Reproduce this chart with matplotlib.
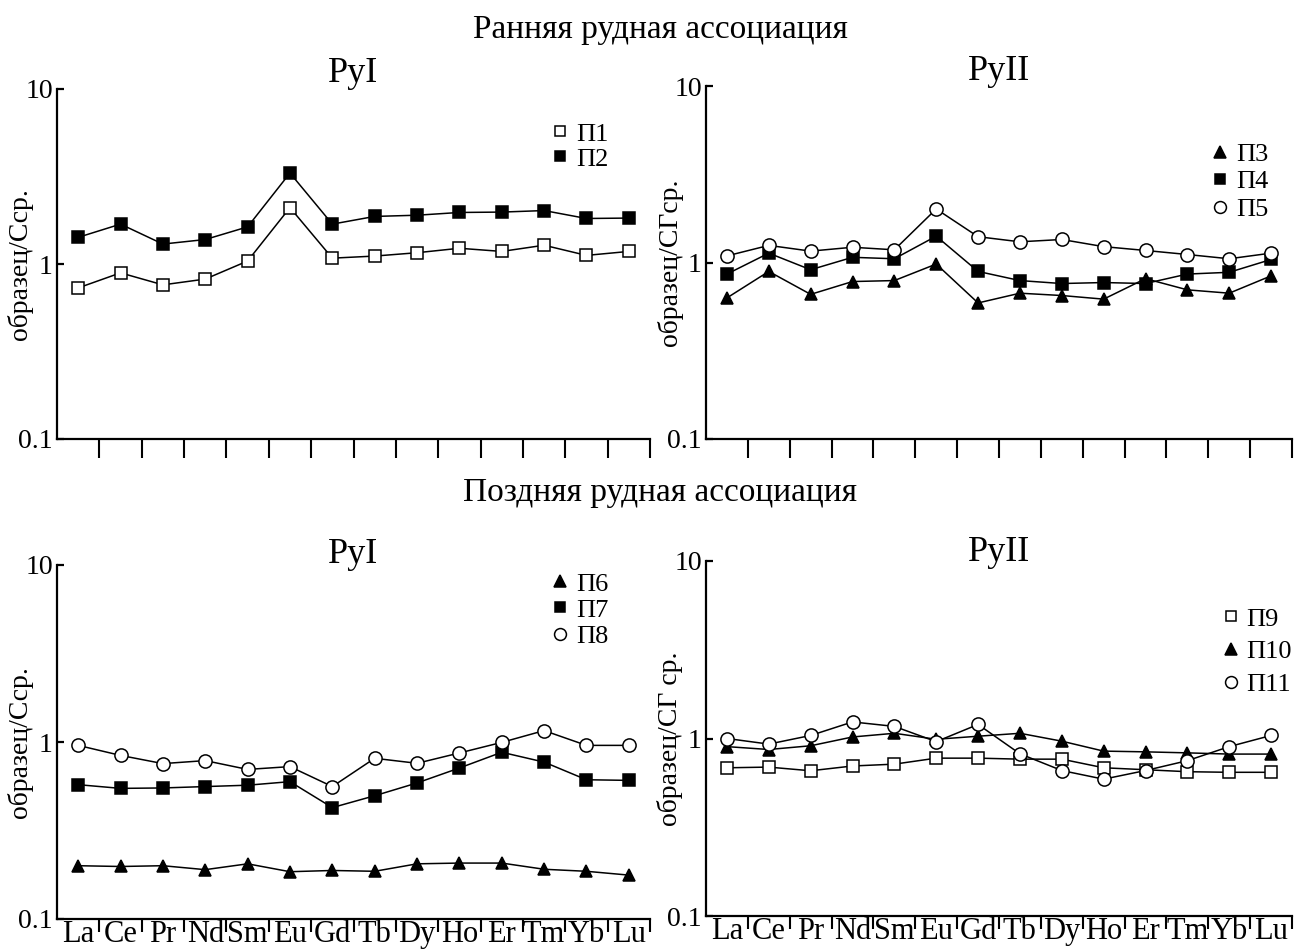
import matplotlib
matplotlib.use("Agg")
import matplotlib.pyplot as plt
from matplotlib.lines import Line2D
from matplotlib.ticker import FixedLocator, NullFormatter, FixedFormatter

plt.rcParams['font.family'] = ['Liberation Serif', 'DejaVu Serif']

elements = ["La", "Ce", "Pr", "Nd", "Sm", "Eu", "Gd", "Tb", "Dy", "Ho", "Er", "Tm", "Yb", "Lu"]

# Early ore association
p1 = [0.73, 0.89, 0.76, 0.82, 1.04, 2.10, 1.08, 1.11, 1.16, 1.23, 1.18, 1.28, 1.12, 1.18]
p2 = [1.42, 1.69, 1.30, 1.38, 1.63, 3.31, 1.69, 1.87, 1.90, 1.97, 1.98, 2.02, 1.82, 1.83]
p3 = [0.63, 0.89, 0.66, 0.78, 0.79, 0.98, 0.59, 0.67, 0.65, 0.62, 0.81, 0.70, 0.67, 0.84]
p4 = [0.86, 1.13, 0.91, 1.07, 1.05, 1.41, 0.89, 0.79, 0.76, 0.77, 0.76, 0.86, 0.88, 1.04]
p5 = [1.09, 1.25, 1.16, 1.22, 1.18, 2.01, 1.40, 1.31, 1.35, 1.23, 1.17, 1.11, 1.05, 1.13]
# Late ore association
p6 = [0.200, 0.198, 0.200, 0.190, 0.205, 0.185, 0.188, 0.186, 0.205, 0.207, 0.207, 0.191, 0.186, 0.177]
p7 = [0.574, 0.547, 0.550, 0.560, 0.570, 0.597, 0.426, 0.497, 0.587, 0.713, 0.875, 0.770, 0.612, 0.607]
p8 = [0.957, 0.840, 0.755, 0.785, 0.700, 0.726, 0.560, 0.809, 0.758, 0.867, 0.995, 1.160, 0.957, 0.957]
p9 = [0.684, 0.690, 0.658, 0.700, 0.717, 0.775, 0.775, 0.765, 0.765, 0.684, 0.667, 0.650, 0.645, 0.645]
p10 = [0.90, 0.867, 0.91, 1.02, 1.07, 0.99, 1.03, 1.07, 0.966, 0.849, 0.841, 0.83, 0.817, 0.817]
p11 = [1.00, 0.93, 1.04, 1.24, 1.17, 0.96, 1.20, 0.82, 0.66, 0.59, 0.66, 0.75, 0.90, 1.04]

W, H = 1296, 949
fig = plt.figure(figsize=(W / 100, H / 100), dpi=100)


def add_ax(left, right, top, bottom):
    return fig.add_axes([left / W, 1 - bottom / H, (right - left) / W, (bottom - top) / H])


STY = {
    'sq_open': dict(marker='s', mfc='white', mec='black'),
    'sq_fill': dict(marker='s', mfc='black', mec='black'),
    'tri': dict(marker='^', mfc='black', mec='black'),
    'circ': dict(marker='o', mfc='white', mec='black'),
}
MS = {'sq_open': 8, 'sq_fill': 8, 'tri': 9, 'circ': 9.5}


def panel(ax, series, title, title_y, ylabel, show_labels, leg_anchor, leg_spacing):
    x = list(range(len(elements)))
    handles = []
    for vals, style, name in series:
        ax.plot(x, vals, color='black', lw=1.1, ms=MS[style], mew=1.1, zorder=3,
                clip_on=False, **STY[style])
        handles.append(Line2D([], [], ls='none', ms=MS[style] * 0.9, mew=1.1,
                              **STY[style], label=name))
    ax.set_yscale('log')
    ax.set_ylim(0.1, 10)
    ax.set_xlim(-0.5, 13.5)
    for s in ('top', 'right'):
        ax.spines[s].set_visible(False)
    for s in ('left', 'bottom'):
        ax.spines[s].set_linewidth(1.6)
    ax.yaxis.set_major_locator(FixedLocator([0.1, 1, 10]))
    ax.yaxis.set_major_formatter(FixedFormatter(['0.1', '1', '10']))
    ax.yaxis.set_minor_locator(FixedLocator([]))
    ax.tick_params(axis='y', which='major', direction='in', length=5, width=1.6,
                   labelsize=20, pad=3)
    ax.xaxis.set_major_locator(FixedLocator(x))
    if show_labels:
        ax.xaxis.set_major_formatter(FixedFormatter(elements))
        tick_len = 9
    else:
        ax.xaxis.set_major_formatter(NullFormatter())
        tick_len = 14
    ax.xaxis.set_minor_locator(FixedLocator([i + 0.5 for i in range(14)]))
    ax.tick_params(axis='x', which='major', length=0, labelsize=22, pad=1)
    ax.tick_params(axis='x', which='minor', direction='out', length=tick_len, width=1.5)
    ax.text(0.5, title_y, title, transform=ax.transAxes, ha='center', va='center',
            fontsize=26)
    ax.set_ylabel(ylabel, fontsize=20)
    ax.yaxis.set_label_coords(-0.04, 0.5)
    ax.legend(handles=handles, loc='upper right', bbox_to_anchor=leg_anchor,
              frameon=False, fontsize=19, handlelength=0.6, handletextpad=0.3,
              labelspacing=leg_spacing, borderpad=0, borderaxespad=0)


ax1 = add_ax(57, 650, 89, 439)
panel(ax1, [(p1, 'sq_open', 'П1'), (p2, 'sq_fill', 'П2')], 'РуI', 1.045, 'образец/Сср.',
      False, (0.93, 0.905), 0.05)
ax2 = add_ax(706, 1292, 86, 439)
panel(ax2, [(p3, 'tri', 'П3'), (p4, 'sq_fill', 'П4'), (p5, 'circ', 'П5')], 'РуII', 1.04,
      'образец/СГср.', False, (0.96, 0.84), 0.15)
ax3 = add_ax(57, 650, 565, 919)
panel(ax3, [(p6, 'tri', 'П6'), (p7, 'sq_fill', 'П7'), (p8, 'circ', 'П8')], 'РуI', 1.03,
      'образец/Сср.', True, (0.93, 0.98), 0.1)
ax4 = add_ax(706, 1292, 561, 916)
panel(ax4, [(p9, 'sq_open', 'П9'), (p10, 'tri', 'П10'), (p11, 'circ', 'П11')], 'РуII', 1.025,
      'образец/СГ ср.', True, (1.0, 0.87), 0.35)

fig.text(660 / W, 1 - 30 / H, 'Ранняя рудная ассоциация', ha='center', va='center', fontsize=24)
fig.text(660 / W, 1 - 493 / H, 'Поздняя рудная ассоциация', ha='center', va='center', fontsize=24)

fig.savefig('out.png', dpi=100)
